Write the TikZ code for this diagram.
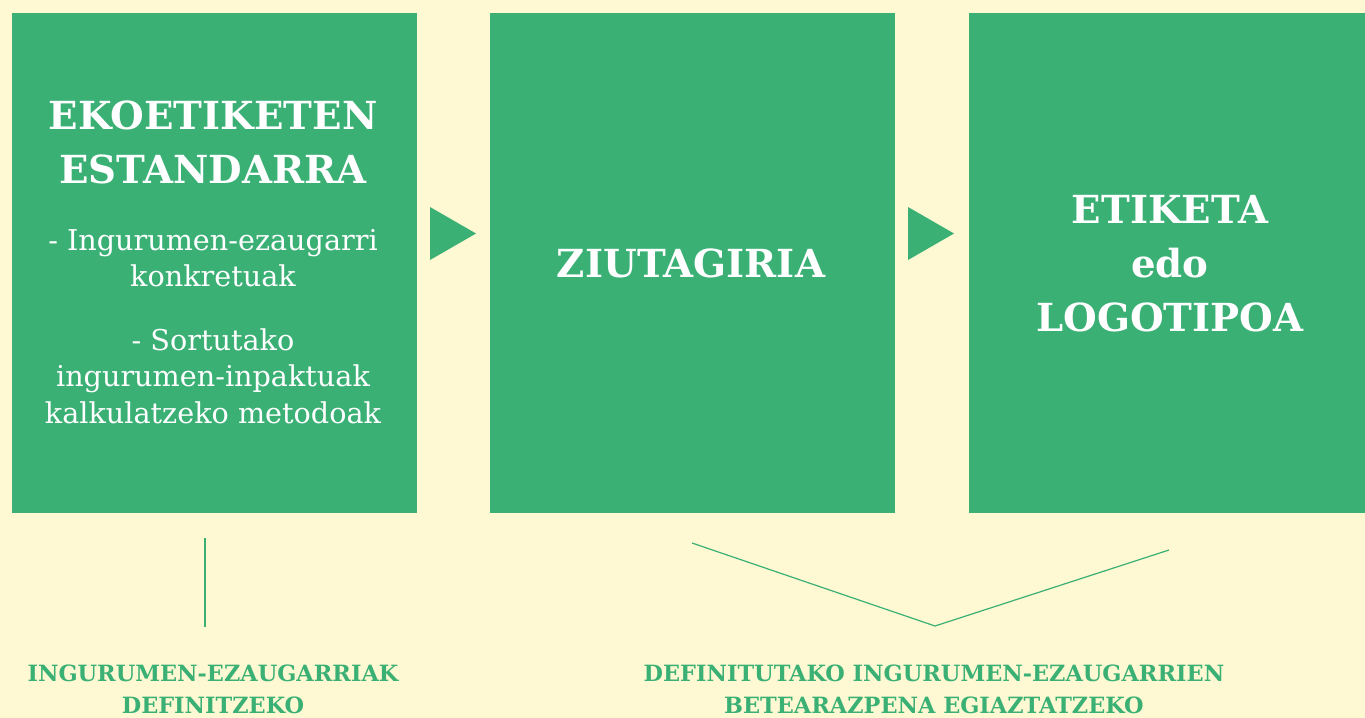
\documentclass[tikz,border=0pt]{standalone}
\usepackage{fontspec}
\setmainfont{DejaVu Serif}

\definecolor{ecogreen}{RGB}{58,176,117}
\definecolor{paleyellow}{RGB}{254,249,210}

\tikzset{every picture/.style={line width=0.75pt}}
\tikzset{
  greenbox/.style={fill=ecogreen, draw=none, inner sep=0pt, anchor=north west,
    minimum width=303.75pt, minimum height=375pt},
  titletxt/.style={text=white, inner sep=0.75pt, align=center,
    font=\fontsize{29}{40.5}\selectfont\bfseries},
  bodytxt/.style={text=white, inner sep=0.75pt, align=center,
    font=\fontsize{21.5}{27.5}\selectfont},
  notetxt/.style={text=ecogreen, inner sep=0.75pt, align=center,
    font=\fontsize{16.8}{24}\selectfont\bfseries},
  guide/.style={draw=ecogreen, line width=0.9pt}
}

\begin{document}
\begin{tikzpicture}[x=0.75pt,y=0.75pt,yscale=-1,xscale=1]
%background, sets the whole page
\fill [paleyellow] (0,0) rectangle (1365,718);
\useasboundingbox (0,0) rectangle (1365,718);

%Shape: Rectangle [id:standard] 
\node (standard) [greenbox] at (11,12) {};
%Shape: Rectangle [id:certificate] 
\node (certificate) [greenbox] at (489,12) {};
%Shape: Rectangle [id:label] 
\node (label) [greenbox] at (968,12) {};

%Shape: Triangle [id:tri1] 
\fill [ecogreen] (430,207) -- (476,233.5) -- (430,260) -- cycle ;
%Shape: Triangle [id:tri2] 
\fill [ecogreen] (908,207) -- (954,233.5) -- (908,260) -- cycle ;

%Straight Lines [id:stdline] 
\coordinate (stdtop) at (205,538);
\coordinate (stdend) at (205,627);
\draw [guide] (stdtop) -- (stdend) ;
%Straight Lines [id:vline] 
\coordinate (vleft) at (692,543);
\coordinate (vtip) at (935,626);
\coordinate (vright) at (1169,550);
\draw [guide] (vleft) -- (vtip) -- (vright) ;

% Text Node
\node (stdtitle) [titletxt] at (213,142) {EKOETIKETEN\\ESTANDARRA};
% Text Node
\node (stditem1) [bodytxt] at (213,258) {- Ingurumen-ezaugarri\\konkretuak};
% Text Node
\node (stditem2) [bodytxt] at (213,376) {- Sortutako\\ingurumen-inpaktuak\\kalkulatzeko metodoak};
% Text Node
\node (certtitle) [titletxt] at (691,263) {ZIUTAGIRIA};
% Text Node
\node (labeltitle) [titletxt] at (1170,264) {ETIKETA\\edo\\LOGOTIPOA};
% Text Node
\node (stdnote) [notetxt] at (213,689) {INGURUMEN-EZAUGARRIAK\\DEFINITZEKO};
% Text Node
\node (checknote) [notetxt] at (934,689) {DEFINITUTAKO INGURUMEN-EZAUGARRIEN\\BETEARAZPENA EGIAZTATZEKO};

\end{tikzpicture}
\end{document}
